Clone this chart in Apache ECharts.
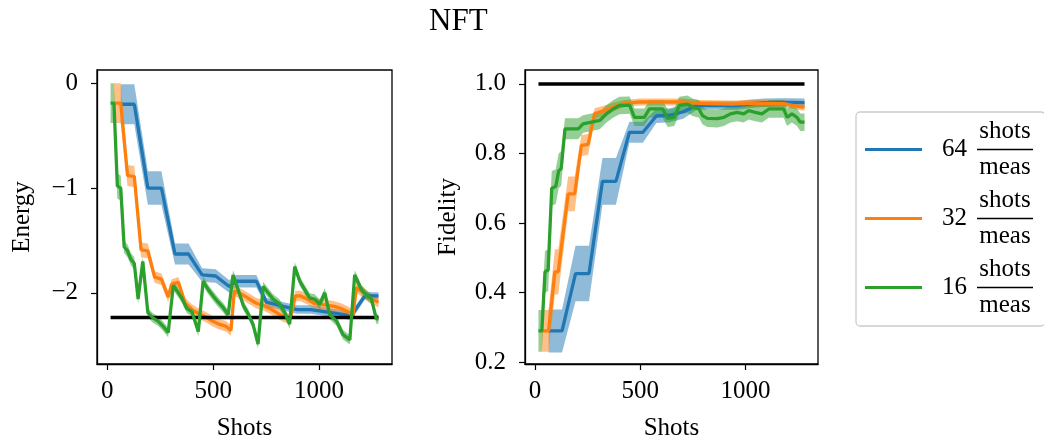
<!DOCTYPE html>
<html>
<head>
<meta charset="utf-8">
<script src="https://cdn.jsdelivr.net/npm/echarts@6/dist/echarts.min.js"></script>
<style>
  html, body { margin: 0; padding: 0; background: #fff; }
  #chart { width: 1044px; height: 439px; }
</style>
</head>
<body>
<div id="chart"></div>
<script>
const font = "'Liberation Serif', 'DejaVu Serif', serif";
const colors = ['#1f77b4', '#ff7f0e', '#2ca02c'];
const names = ['64', '32', '16'];

// left panel: energy
const eShots64 = [64, 128, 192, 256, 320, 384, 448, 512, 576, 608, 704, 752, 832, 896, 960, 1024, 1088, 1152, 1216, 1280];
const energy64 = [-0.2, -0.2, -1.0, -1.0, -1.63, -1.63, -1.83, -1.84, -1.94, -1.89, -1.89, -2.09, -2.13, -2.16, -2.16, -2.18, -2.2, -2.22, -2.03, -2.03];
const energyErr64 = [0.19, 0.19, 0.16, 0.16, 0.1, 0.1, 0.065, 0.065, 0.06, 0.06, 0.06, 0.04, 0.04, 0.04, 0.04, 0.04, 0.04, 0.04, 0.035, 0.035];

const eShots32 = [32, 64, 96, 128, 160, 192, 224, 256, 288, 304, 336, 368, 400, 432, 464, 496, 528, 560, 584, 600, 640,
  672, 704, 736, 768, 800, 832, 864, 888, 912, 944, 976, 1008, 1040, 1072, 1104, 1136, 1160, 1176, 1208, 1240, 1280];
const energy32 = [-0.19, -0.19, -0.88, -0.89, -1.59, -1.6, -1.85, -1.87, -2.04, -1.92, -1.9, -2.1, -2.16, -2.2, -2.23, -2.27, -2.3, -2.32, -2.36, -1.98, -2.02,
  -2.06, -2.1, -2.12, -2.15, -2.19, -2.23, -2.25, -2.03, -2.03, -2.06, -2.1, -2.11, -2.12, -2.13, -2.15, -2.18, -2.22, -1.95, -2.0, -2.05, -2.09];
const energyErr32 = [0.19, 0.19, 0.1, 0.1, 0.07, 0.07, 0.055, 0.055, 0.05, 0.05, 0.05, 0.05, 0.05, 0.05, 0.05, 0.05, 0.05, 0.05, 0.05, 0.05, 0.05,
  0.05, 0.05, 0.05, 0.05, 0.05, 0.05, 0.05, 0.05, 0.05, 0.05, 0.05, 0.05, 0.05, 0.05, 0.05, 0.05, 0.05, 0.05, 0.05, 0.05, 0.05];

const eShots16 = [16, 32, 48, 64, 80, 96, 112, 128, 146, 168, 192, 216, 240, 264, 288, 312, 336, 352, 376, 400, 430, 453, 477, 500, 524, 547, 571, 594,
  618, 642, 665, 688, 712, 736, 759, 783, 814, 838, 861, 885, 909, 932, 956, 979, 1003, 1027, 1050, 1082, 1113, 1145, 1168, 1200, 1223, 1247, 1270, 1280];
const energy16 = [-0.19, -0.19, -0.98, -1.0, -1.56, -1.6, -1.68, -1.72, -2.06, -1.7, -2.19, -2.24, -2.27, -2.32, -2.38, -1.93, -2.0, -2.05, -2.15, -2.18, -2.37, -1.89, -1.97, -2.03, -2.09, -2.14, -2.21, -1.83,
  -1.97, -2.12, -2.2, -2.3, -2.49, -1.94, -2.0, -2.06, -2.11, -2.19, -2.3, -1.75, -1.89, -1.97, -2.05, -2.06, -2.11, -2.0, -2.21, -2.27, -2.4, -2.45, -1.83, -1.97, -2.02, -2.06, -2.25, -2.25];
const energyErr16 = [0.19, 0.19, 0.12, 0.12, 0.06, 0.06, 0.06, 0.06, 0.045, 0.045, 0.045, 0.045, 0.045, 0.045, 0.045, 0.045, 0.045, 0.045, 0.045, 0.045, 0.045, 0.045, 0.045, 0.045, 0.045, 0.045, 0.045, 0.045,
  0.045, 0.045, 0.045, 0.045, 0.045, 0.045, 0.045, 0.045, 0.045, 0.045, 0.045, 0.045, 0.045, 0.045, 0.045, 0.045, 0.045, 0.045, 0.045, 0.045, 0.045, 0.045, 0.045, 0.045, 0.045, 0.045, 0.045, 0.045];

const groundShots = [16, 1280];
const groundEnergy = [-2.236, -2.236];

// right panel: fidelity
const fShots64 = [64, 128, 192, 256, 320, 384, 448, 512, 576, 640, 704, 768, 832, 896, 960, 1024, 1088, 1152, 1216, 1280];
const fidelity64 = [0.29, 0.29, 0.455, 0.455, 0.72, 0.72, 0.861, 0.861, 0.908, 0.91, 0.92, 0.938, 0.938, 0.938, 0.938, 0.943, 0.946, 0.947, 0.947, 0.946];
const fidelityErr64 = [0.062, 0.062, 0.08, 0.08, 0.067, 0.067, 0.03, 0.03, 0.02, 0.02, 0.02, 0.012, 0.012, 0.012, 0.012, 0.012, 0.012, 0.012, 0.012, 0.012];

const fShots32 = [32, 64, 94, 110, 157, 188, 220, 252, 283, 330, 378, 425, 496, 700, 779, 936, 1015, 1094, 1188, 1252, 1280];
const fidelity32 = [0.29, 0.29, 0.46, 0.46, 0.684, 0.684, 0.823, 0.826, 0.915, 0.923, 0.935, 0.944, 0.948, 0.948, 0.944, 0.942, 0.944, 0.944, 0.943, 0.935, 0.933];
const fidelityErr32 = [0.06, 0.06, 0.065, 0.065, 0.05, 0.05, 0.03, 0.03, 0.015, 0.015, 0.012, 0.01, 0.01, 0.01, 0.01, 0.01, 0.01, 0.01, 0.01, 0.01, 0.01];

const fShots16 = [16, 32, 47, 62, 79, 98, 112, 124, 142, 205, 228, 268, 307, 339, 370, 401, 449, 472, 519, 543, 606, 630,
  661, 685, 724, 748, 779, 795, 818, 866, 897, 928, 960, 991, 1015, 1046, 1078, 1110, 1181, 1197, 1220, 1244, 1260, 1280];
const fidelity16 = [0.29, 0.29, 0.46, 0.465, 0.7, 0.705, 0.75, 0.757, 0.871, 0.871, 0.885, 0.89, 0.895, 0.914, 0.928, 0.938, 0.939, 0.904, 0.904, 0.928, 0.928, 0.901,
  0.904, 0.938, 0.942, 0.933, 0.928, 0.909, 0.901, 0.9, 0.904, 0.914, 0.918, 0.914, 0.923, 0.918, 0.914, 0.928, 0.928, 0.904, 0.914, 0.904, 0.89, 0.89];
const fidelityErr16 = [0.06, 0.06, 0.06, 0.06, 0.05, 0.05, 0.05, 0.05, 0.03, 0.03, 0.025, 0.025, 0.025, 0.025, 0.025, 0.025, 0.025, 0.025, 0.025, 0.025, 0.025, 0.025,
  0.025, 0.025, 0.025, 0.025, 0.025, 0.025, 0.025, 0.025, 0.025, 0.025, 0.025, 0.025, 0.025, 0.025, 0.025, 0.025, 0.025, 0.025, 0.025, 0.025, 0.025, 0.025];

const exactShots = [16, 1280];
const exactFidelity = [1.0, 1.0];

function pairs(xs, ys) {
  return xs.map((x, i) => [x, ys[i]]);
}

// shaded spread: one polygon (upper edge forward, lower edge back) drawn via the axis scales
function band(g, xs, ys, err, color) {
  return {
    type: 'custom', xAxisIndex: g, yAxisIndex: g, silent: true, clip: true,
    data: xs.map((x, i) => [x, ys[i] - err[i], ys[i] + err[i]]),
    renderItem: function (params, api) {
      if (params.dataIndex !== 0) return null;
      const up = xs.map((x, i) => api.coord([x, ys[i] + err[i]]));
      const down = xs.map((x, i) => api.coord([x, ys[i] - err[i]])).reverse();
      return {
        type: 'polygon',
        shape: { points: up.concat(down) },
        style: { fill: color, opacity: 0.5 }
      };
    }
  };
}

function mainLine(g, name, xs, ys, color) {
  return {
    type: 'line', name: name, xAxisIndex: g, yAxisIndex: g,
    symbol: 'none', color: color,
    lineStyle: { color: color, width: 3.3 },
    data: pairs(xs, ys)
  };
}

function refLine(g, xs, ys) {
  return {
    type: 'line', name: 'ref' + g, xAxisIndex: g, yAxisIndex: g,
    symbol: 'none', silent: true,
    lineStyle: { color: '#000', width: 3.5 },
    data: pairs(xs, ys)
  };
}

const leftSets = [[eShots64, energy64, energyErr64], [eShots32, energy32, energyErr32], [eShots16, energy16, energyErr16]];
const rightSets = [[fShots64, fidelity64, fidelityErr64], [fShots32, fidelity32, fidelityErr32], [fShots16, fidelity16, fidelityErr16]];

let series = [];
[[0, leftSets, groundShots, groundEnergy], [1, rightSets, exactShots, exactFidelity]].forEach(([g, sets, rx, ry]) => {
  sets.forEach((s, k) => {
    series.push(band(g, s[0], s[1], s[2], colors[k]));
    series.push(mainLine(g, names[k], s[0], s[1], colors[k]));
    // reference line sits above orange, below green
    if (k === 1) series.push(refLine(g, rx, ry));
  });
});

const tickStyle = { show: true, length: 6, lineStyle: { color: '#000', width: 1.2 } };
const labelStyle = { color: '#000', fontSize: 25, fontFamily: font };
const nameStyle = { color: '#000', fontSize: 25, fontFamily: font };

function xAxis(g) {
  return {
    gridIndex: g, type: 'value', min: -48, max: 1344,
    name: 'Shots', nameLocation: 'middle', nameGap: 52, nameTextStyle: nameStyle,
    splitLine: { show: false },
    axisLine: { show: true, onZero: false, lineStyle: { color: '#000', width: 1.3 } },
    axisTick: Object.assign({ customValues: [0, 500, 1000] }, tickStyle),
    axisLabel: Object.assign({ customValues: [0, 500, 1000], margin: 15, formatter: v => String(v) }, labelStyle)
  };
}

const chart = echarts.init(document.getElementById('chart'), null, { renderer: 'canvas' });
chart.setOption({
  animation: false,
  backgroundColor: '#fff',
  title: {
    text: 'NFT', left: 429, top: 6, padding: 0,
    textStyle: { color: '#000', fontSize: 31, fontWeight: 'normal', fontFamily: font }
  },
  legend: {
    data: names, orient: 'vertical', left: 856, top: 112,
    padding: [7, 12, 8, 9], itemGap: 8,
    icon: 'rect', itemWidth: 57, itemHeight: 3,
    selectedMode: false,
    backgroundColor: '#fff', borderColor: '#cccccc', borderWidth: 1.3, borderRadius: 4,
    formatter: n => '{sp|}{s|shots}\n{lp|}{num|' + n + '}{g|}{bar|}\n{sp|}{s|meas}',
    textStyle: {
      color: '#000', fontFamily: font, fontSize: 25,
      rich: {
        sp: { width: 50, lineHeight: 24 },
        s: { width: 56, align: 'center', fontSize: 25, fontFamily: font, color: '#000', lineHeight: 24 },
        lp: { width: 15, lineHeight: 12 },
        num: { width: 25, fontSize: 25, fontFamily: font, color: '#000', lineHeight: 12 },
        g: { width: 10, lineHeight: 12 },
        bar: { width: 56, height: 1.5, lineHeight: 12, backgroundColor: '#000' }
      }
    }
  },
  grid: [
    { left: 97, top: 70, width: 295, height: 294, outerBoundsMode: 'none', show: true, borderColor: '#000', borderWidth: 1.3 },
    { left: 525, top: 70, width: 293, height: 294, outerBoundsMode: 'none', show: true, borderColor: '#000', borderWidth: 1.3 }
  ],
  xAxis: [xAxis(0), xAxis(1)],
  yAxis: [
    {
      gridIndex: 0, type: 'value', min: -2.68, max: 0.127,
      name: 'Energy', nameLocation: 'middle', nameGap: 62, nameTextStyle: nameStyle,
      splitLine: { show: false },
      axisLine: { show: true, onZero: false, lineStyle: { color: '#000', width: 1.3 } },
      axisTick: Object.assign({ customValues: [-2, -1, 0] }, tickStyle),
      axisLabel: Object.assign({
        customValues: [-2, -1, 0], margin: 19,
        formatter: v => String(v).replace('-', '\u2212')
      }, labelStyle)
    },
    {
      gridIndex: 1, type: 'value', min: 0.195, max: 1.04,
      name: 'Fidelity', nameLocation: 'middle', nameGap: 64, nameTextStyle: nameStyle,
      splitLine: { show: false },
      axisLine: { show: true, onZero: false, lineStyle: { color: '#000', width: 1.3 } },
      axisTick: Object.assign({ customValues: [0.2, 0.4, 0.6, 0.8, 1.0] }, tickStyle),
      axisLabel: Object.assign({
        customValues: [0.2, 0.4, 0.6, 0.8, 1.0], margin: 19,
        formatter: v => v.toFixed(1)
      }, labelStyle)
    }
  ],
  series: series
});
</script>
</body>
</html>
